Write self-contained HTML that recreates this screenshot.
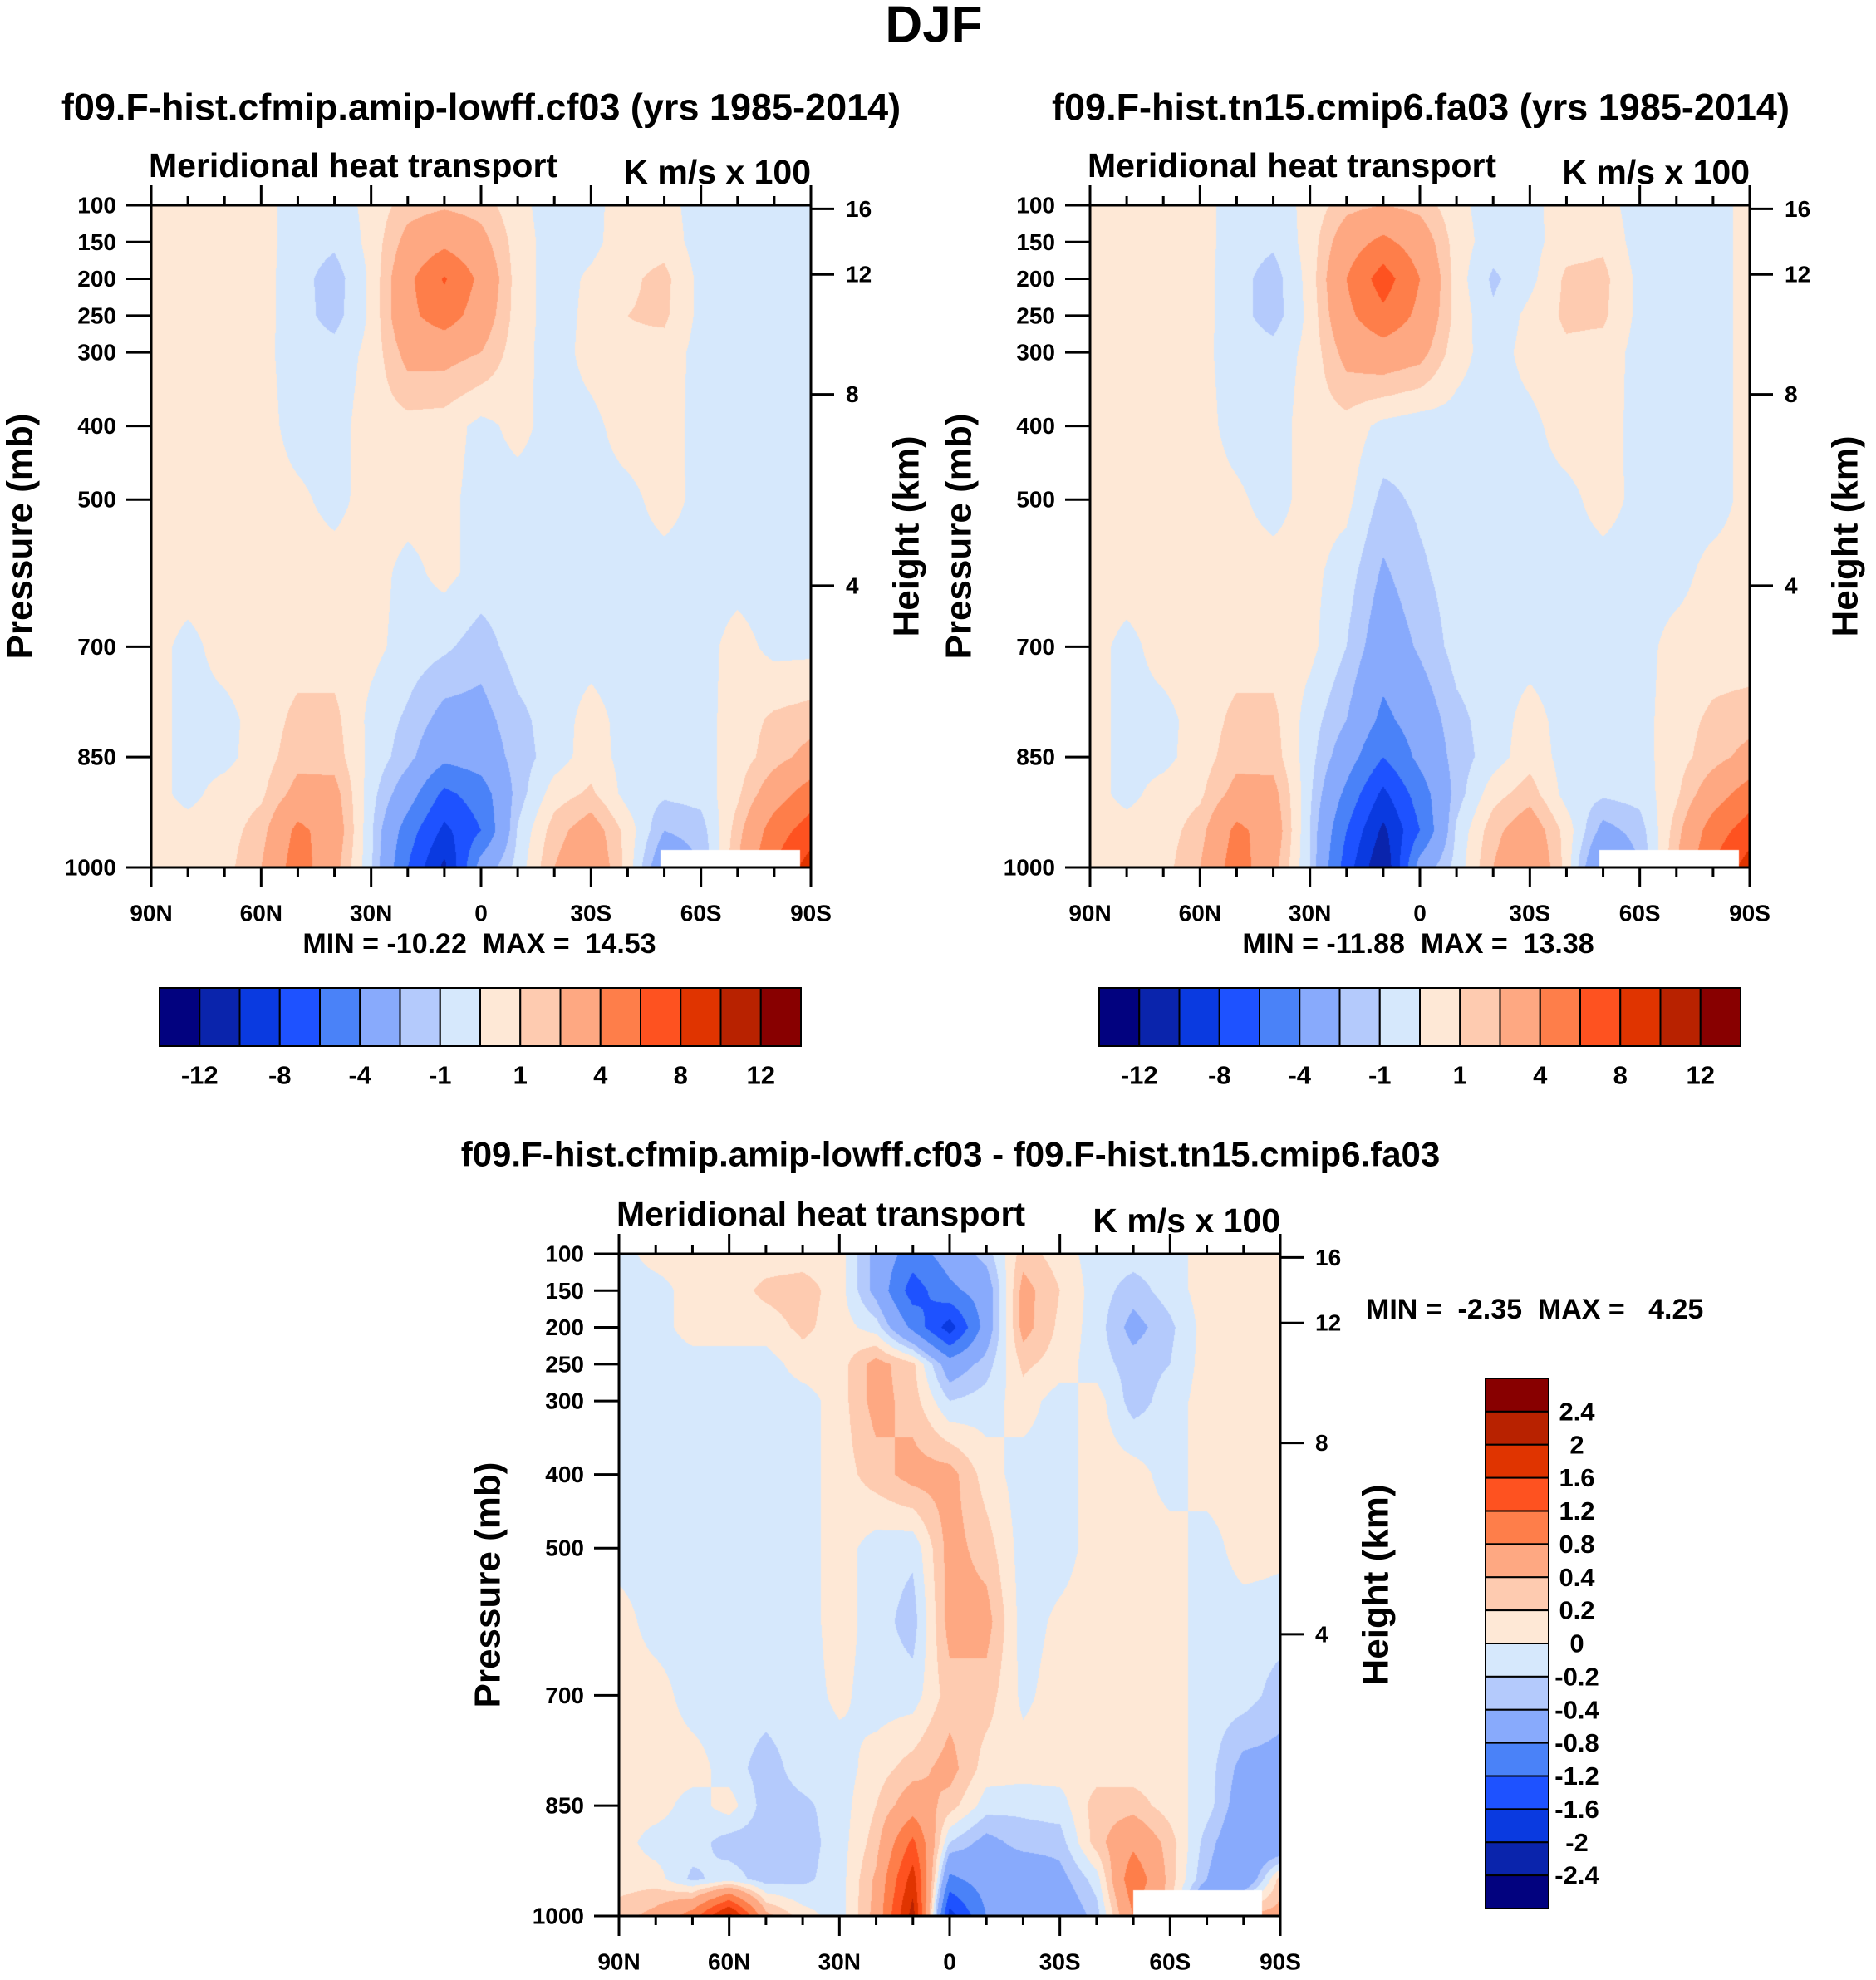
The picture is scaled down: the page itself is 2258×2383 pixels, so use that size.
<!DOCTYPE html>
<html><head><meta charset="utf-8">
<style>
html,body{margin:0;padding:0;background:#fff;}
#root{position:relative;width:2258px;height:2383px;overflow:hidden;font-family:"Liberation Sans",sans-serif;}
canvas{position:absolute;}
svg{position:absolute;left:0;top:0;}
text{white-space:pre;}
</style></head>
<body>
<div id="root">
<canvas id="cA"></canvas>
<canvas id="cB"></canvas>
<canvas id="cC"></canvas>
<svg id="svg" width="2258" height="2383"></svg>
</div>
<script>
// ---- data ----
const lats = [90,80,70,60,50,40,30,20,10,0,-10,-20,-30,-40,-50,-60,-70,-80,-90];
const pressures = [100,150,200,250,300,400,500,600,700,800,850,900,950,1000];
const levelsMain = [-12,-10,-8,-6,-4,-2,-1,0,1,2,4,6,8,10,12];
const levelsDiff = [-2.4,-2,-1.6,-1.2,-0.8,-0.4,-0.2,0,0.2,0.4,0.8,1.2,1.6,2,2.4];
const cbLabelsMain = ["-12","-8","-4","-1","1","4","8","12"];
const cbLabelsDiff = ["2.4","2","1.6","1.2","0.8","0.4","0.2","0","-0.2","-0.4","-0.8","-1.2","-1.6","-2","-2.4"];
const xTickLabels = ["90N","60N","30N","0","30S","60S","90S"];
const pTickLabels = [100,150,200,250,300,400,500,700,850,1000];
const hTickLabels = [16,12,8,4];
const hTickPressures = [105,194,357,617];
const fieldA = [
[0.5,0.5,0.5,0.4,-0.5,-0.5,0.3,1.5,1.8,1.5,0.3,-0.5,-0.3,0.5,0.4,-0.5,-0.5,-0.5,-0.5],
[0.5,0.5,0.5,0.4,-0.5,-0.8,0.3,2.5,3.5,2.5,0.5,-0.5,-0.3,0.6,0.6,-0.5,-0.5,-0.5,-0.5],
[0.5,0.5,0.5,0.4,-0.6,-1.5,0.2,3.5,6.2,3.5,0.5,-0.5,0.2,0.8,1.3,-0.3,-0.5,-0.5,-0.5],
[0.5,0.5,0.5,0.4,-0.6,-1.4,0.2,3.5,5,3.0,0.5,-0.5,0.3,1.0,1.2,-0.3,-0.5,-0.5,-0.5],
[0.5,0.5,0.5,0.3,-0.5,-0.6,0.3,2.5,2.5,2,0.4,-0.5,0.4,0.8,0.6,-0.4,-0.5,-0.5,-0.5],
[0.5,0.5,0.5,0.4,-0.4,-0.4,0.5,0.6,0.5,-0.3,0.3,-0.4,-0.3,0.5,0.5,-0.4,-0.5,-0.5,-0.5],
[0.5,0.5,0.5,0.4,0.2,-0.3,0.4,0.4,0.3,-0.4,-0.4,-0.4,-0.4,-0.3,0.4,-0.3,-0.5,-0.5,-0.5],
[0.5,0.5,0.5,0.5,0.4,0.4,0.4,-0.3,0.3,-0.4,-0.4,-0.4,-0.4,-0.4,-0.4,-0.4,-0.4,-0.5,-0.5],
[0.4,-0.3,0.4,0.5,0.5,0.5,0.3,-0.4,-0.8,-1.5,-0.5,-0.4,-0.4,-0.5,-0.5,-0.4,0.4,-0.3,-0.3],
[0.4,-0.3,-0.3,0.4,1.3,1.3,-0.3,-1.2,-2.5,-2.5,-1.3,-0.5,0.4,-0.4,-0.4,-0.4,0.5,1.2,1.5],
[0.4,-0.3,-0.3,0.5,1.6,1.5,-0.3,-1.6,-3.5,-3,-1.5,-0.5,0.5,-0.4,-0.4,-0.4,0.5,1.5,2.5],
[0.4,-0.3,0.4,0.8,2.5,2.5,-0.6,-3,-6.5,-5,-1.5,0.5,1.2,-0.4,-0.8,-0.6,0.8,3,5],
[0.4,0.4,0.5,1.5,4.5,3,-0.8,-5,-8.5,-6,-0.9,1.5,2.8,0.6,-2,-1.5,1.5,5,7],
[0.4,0.4,0.6,2,5,2.5,-0.8,-6,-10.5,-3,-0.6,2,3.5,0.6,-3.5,-2,2,6,9]];
const fieldB = [
[0.5,0.5,0.5,0.4,-0.5,-0.5,0.3,1.6,2,1.6,0.3,-0.5,-0.3,0.5,0.4,-0.5,-0.5,-0.5,0.4],
[0.5,0.5,0.5,0.4,-0.5,-0.8,0.4,3,4.5,3,0.5,-0.5,-0.4,0.6,0.8,-0.5,-0.5,-0.5,0.4],
[0.5,0.5,0.5,0.4,-0.6,-1.5,0.4,4,7,4,0.5,-1.2,-0.3,1.2,1.3,-0.3,-0.5,-0.5,0.4],
[0.5,0.5,0.5,0.4,-0.6,-1.5,0.3,3.5,5.5,3.5,0.6,-0.8,0.3,1.2,1.2,-0.3,-0.5,-0.5,0.4],
[0.5,0.5,0.5,0.3,-0.5,-0.6,0.3,2.5,3,2.5,0.4,-0.5,0.4,0.8,0.6,-0.4,-0.5,-0.5,0.4],
[0.5,0.5,0.5,0.4,-0.4,-0.5,0.5,0.6,-0.3,-0.6,-0.4,-0.4,-0.3,0.5,0.5,-0.4,-0.5,-0.5,0.4],
[0.5,0.5,0.5,0.4,0.2,-0.4,0.4,0.3,-1.3,-0.8,-0.5,-0.4,-0.4,-0.3,0.4,-0.3,-0.5,-0.5,0.4],
[0.5,0.5,0.5,0.5,0.4,0.4,0.3,-0.5,-2.2,-1.2,-0.5,-0.4,-0.4,-0.4,-0.4,-0.4,-0.4,0.4,0.4],
[0.4,-0.3,0.4,0.5,0.5,0.5,0.3,-1.0,-3,-1.8,-0.6,-0.4,-0.4,-0.5,-0.5,-0.4,0.4,0.5,0.4],
[0.4,-0.3,-0.3,0.4,1.3,1.3,-0.5,-2,-4.5,-3,-1.3,-0.5,0.4,-0.4,-0.4,-0.4,0.6,1.2,1.5],
[0.4,-0.3,-0.3,0.5,1.6,1.5,-0.6,-3,-6,-3.5,-1.5,-0.5,0.6,-0.4,-0.4,-0.4,0.6,1.5,2.5],
[0.4,-0.3,0.4,0.8,2.5,2.5,-0.8,-4.5,-8.5,-5,-1.5,0.6,1.5,-0.4,-0.8,-0.6,0.8,3,5],
[0.4,0.4,0.5,1.5,4.5,3,-1,-6,-10.5,-6,-0.8,1.6,3,0.6,-2.5,-1.5,1.5,5,7],
[0.4,0.4,0.6,2,5,2.5,-1,-7,-12,-3,-0.6,2,3.8,0.6,-4.5,-2,2,6,9]];
const fieldC = [
[-0.1,0.1,0.1,0.1,0.1,0.1,0.1,-0.5,-1.0,-0.6,-0.3,0.3,0.1,-0.1,-0.1,-0.1,0.1,0.1,0.1],
[-0.1,-0.1,0.1,0.1,0.25,0.3,0.1,-0.5,-1.4,-0.9,-0.6,0.5,0.2,-0.1,-0.3,-0.1,0.1,0.1,0.1],
[-0.1,-0.1,0.1,0.1,0.1,0.25,0.1,-0.1,-0.9,-1.8,-0.6,0.5,0.15,-0.1,-0.5,-0.25,0.1,0.1,0.1],
[-0.1,-0.1,-0.1,-0.1,-0.1,0.1,0.1,0.5,0.25,-0.6,-0.3,0.25,0.1,-0.1,-0.3,-0.2,0.1,0.1,0.1],
[-0.1,-0.1,-0.1,-0.1,-0.1,-0.1,0.1,0.5,0.3,-0.2,-0.1,0.1,-0.1,0.1,-0.3,-0.1,0.1,0.1,0.1],
[-0.1,-0.1,-0.1,-0.1,-0.1,-0.1,0.1,0.3,0.5,0.5,0.1,-0.1,-0.1,0.1,0.1,-0.1,0.1,0.1,0.1],
[-0.1,-0.1,-0.1,-0.1,-0.1,-0.1,0.1,-0.1,-0.15,0.5,0.3,-0.1,-0.1,0.1,0.1,0.1,-0.1,0.1,0.05],
[0.1,-0.1,-0.1,-0.1,-0.1,-0.1,0.1,-0.1,-0.3,0.5,0.5,-0.1,0.05,0.1,0.1,0.1,-0.1,-0.1,-0.1],
[0.1,0.1,-0.1,-0.1,-0.1,-0.1,0.05,-0.1,-0.1,0.3,0.3,-0.05,0.1,0.1,0.1,0.1,-0.1,-0.1,-0.3],
[0.1,0.1,0.1,-0.1,-0.3,-0.1,-0.1,0.1,0.3,0.5,0.1,0.1,0.1,0.1,0.1,0.1,-0.1,-0.5,-0.5],
[0.1,0.1,-0.1,0.1,-0.3,-0.25,-0.1,0.2,0.6,0.3,-0.1,-0.15,-0.1,0.3,0.3,0.1,-0.1,-0.6,-0.6],
[0.1,-0.1,-0.1,-0.3,-0.3,-0.3,-0.1,0.3,1.3,-0.2,-0.5,-0.3,-0.3,0.3,0.7,0.3,-0.3,-0.7,-0.8],
[0.1,0.1,-0.25,-0.1,-0.3,-0.25,-0.1,0.45,1.8,-0.9,-0.6,-0.7,-0.5,-0.1,1.1,0.3,-0.4,-0.8,0.3],
[0.3,0.5,1.0,2.2,0.5,0.1,-0.1,0.5,2.2,-1.8,-0.8,-0.7,-0.7,-0.3,0.8,0.3,-1.2,0.5,0.5]];
const palette = ["#02027f","#0a24ac","#0a3ae0","#1e52ff","#4a82f8","#88aafc","#b4cafc","#d6e8fc","#fee8d6","#fecbb0","#fea882","#fe7e4a","#fe5220","#e03400","#b82200","#880000"];

// ---- helpers ----
const NS="http://www.w3.org/2000/svg";
const svg=document.getElementById('svg');
function el(tag,attrs,parent){const e=document.createElementNS(NS,tag);for(const k in attrs)e.setAttribute(k,attrs[k]);(parent||svg).appendChild(e);return e;}
function txt(x,y,s,size,anchor,name,extra){
  const t=el('text',Object.assign({x:x,y:y,'font-size':size,'font-weight':'bold','text-anchor':anchor||'middle','dominant-baseline':'central','font-family':'"Liberation Sans",sans-serif',fill:'#000'},extra||{}));
  t.textContent=s;
  
  
  return t;
}
function colorIdx(v,levels){let k=0;for(const b of levels){if(v>=b)k++;}return k;}
function hex(c){return [parseInt(c.substr(1,2),16),parseInt(c.substr(3,2),16),parseInt(c.substr(5,2),16)];}
const palRGB=palette.map(hex);

function drawField(cid,ox,oy,w,h,field,levels,miss){
  const c=document.getElementById(cid);c.width=w;c.height=h;c.style.left=ox+'px';c.style.top=oy+'px';
  const ctx=c.getContext('2d');const img=ctx.createImageData(w,h);
  const nx=lats.length;
  for(let py=0;py<h;py++){
    const p=100+900*(py+0.5)/h;
    let j=0;while(j<pressures.length-2&&p>pressures[j+1])j++;
    const ty=(p-pressures[j])/(pressures[j+1]-pressures[j]);
    for(let px=0;px<w;px++){
      const lat=90-180*(px+0.5)/w;
      let fi=(90-lat)/10;let i=Math.min(Math.floor(fi),nx-2);const tx=fi-i;
      const v=(field[j][i]*(1-tx)+field[j][i+1]*tx)*(1-ty)+(field[j+1][i]*(1-tx)+field[j+1][i+1]*tx)*ty;
      let col=palRGB[colorIdx(v,levels)];
      if(miss&&lat<=miss[0]&&lat>=miss[1]&&p>=miss[2])col=[255,255,255];
      const o=(py*w+px)*4;img.data[o]=col[0];img.data[o+1]=col[1];img.data[o+2]=col[2];img.data[o+3]=255;
    }
  }
  ctx.putImageData(img,0,0);
}

function axes(ox,oy,w,h,pfx){
  const g=el('g',{});
  
  
  const xs=lat=>ox+(90-lat)/180*w;
  const ys=p=>oy+(p-100)/900*h;
  el('rect',{x:ox,y:oy,width:w,height:h,fill:'none',stroke:'#000','stroke-width':3},g);
  for(let lat=90;lat>=-90;lat-=10){
    const major=lat%30===0;const L=major?24:11;const x=xs(lat);
    el('line',{x1:x,y1:oy,x2:x,y2:oy-L,stroke:'#000','stroke-width':3},g);
    el('line',{x1:x,y1:oy+h,x2:x,y2:oy+h+L,stroke:'#000','stroke-width':3},g);
  }
  xTickLabels.forEach((s,i)=>{txt(xs(90-30*i),oy+h+55,s,28,'middle',pfx+'-x-tick-label');});
  pTickLabels.forEach(p=>{
    el('line',{x1:ox,y1:ys(p),x2:ox-30,y2:ys(p),stroke:'#000','stroke-width':3},g);
    txt(ox-42,ys(p),String(p),28,'end',pfx+'-pressure-tick-label');
  });
  hTickLabels.forEach((hkm,i)=>{
    const y=ys(hTickPressures[i]);
    el('line',{x1:ox+w,y1:y,x2:ox+w+28,y2:y,stroke:'#000','stroke-width':3},g);
    txt(ox+w+42,y,String(hkm),28,'start',pfx+'-height-tick-label');
  });
  txt(ox-158,oy+h*0.5,'Pressure (mb)',44,'middle',pfx+'-y-axis-title',{transform:`rotate(-90 ${ox-158} ${oy+h*0.5})`});
  txt(ox+w+115,oy+h*0.5,'Height (km)',44,'middle',pfx+'-right-axis-title',{transform:`rotate(-90 ${ox+w+115} ${oy+h*0.5})`});
  txt(ox-3,oy-48,'Meridional heat transport',41,'start',pfx+'-left-subtitle');
  txt(ox+w,oy-40,'K m/s x 100',41,'end',pfx+'-right-subtitle');
}

function hColorbar(x,y,w,h,pfx){
  const bw=w/16;
  palette.forEach((c,i)=>{
    const r=el('rect',{x:x+i*bw,y:y,width:bw,height:h,fill:c,stroke:'#000','stroke-width':2});
    
    
  });
  cbLabelsMain.forEach((s,i)=>{txt(x+(1+2*i)*bw,y+h+35,s,31,'middle',pfx+'-colorbar-label');});
}

// ---- panels ----
txt(1124,30,'DJF',62,'middle','figure-title');
// Panel A
drawField('cA',182,247,794,797,fieldA,levelsMain,[-49,-87,976]);
axes(182,247,794,797,'cf03');
txt(579,129,'f09.F-hist.cfmip.amip-lowff.cf03 (yrs 1985-2014)',45,'middle','cf03-panel-title');
txt(577,1136,'MIN = -10.22  MAX =  14.53',34,'middle','cf03-min-max');
hColorbar(192,1189,772,70,'cf03');
// Panel B
drawField('cB',1312,247,794,797,fieldB,levelsMain,[-49,-87,976]);
axes(1312,247,794,797,'fa03');
txt(1710,129,'f09.F-hist.tn15.cmip6.fa03 (yrs 1985-2014)',45,'middle','fa03-panel-title');
txt(1707,1136,'MIN = -11.88  MAX =  13.38',34,'middle','fa03-min-max');
hColorbar(1323,1189,772,70,'fa03');
// Panel C
drawField('cC',745,1509,796,797,fieldC,levelsDiff,[-50,-85,965]);
axes(745,1509,796,797,'diff');
txt(1144,1389,'f09.F-hist.cfmip.amip-lowff.cf03 - f09.F-hist.tn15.cmip6.fa03',42,'middle','diff-panel-title');
txt(1644,1576,'MIN =  -2.35  MAX =   4.25',34,'start','diff-min-max');
(function(){
  const x=1788,y=1659,w=76,h=638,bh=h/16;
  palette.slice().reverse().forEach((c,i)=>{
    const r=el('rect',{x:x,y:y+i*bh,width:w,height:bh,fill:c,stroke:'#000','stroke-width':2});
    
    
  });
  cbLabelsDiff.forEach((s,i)=>{txt(x+w+34,y+(i+1)*bh,s,31,'middle','diff-colorbar-label');});
})();
</script>
</body></html>
